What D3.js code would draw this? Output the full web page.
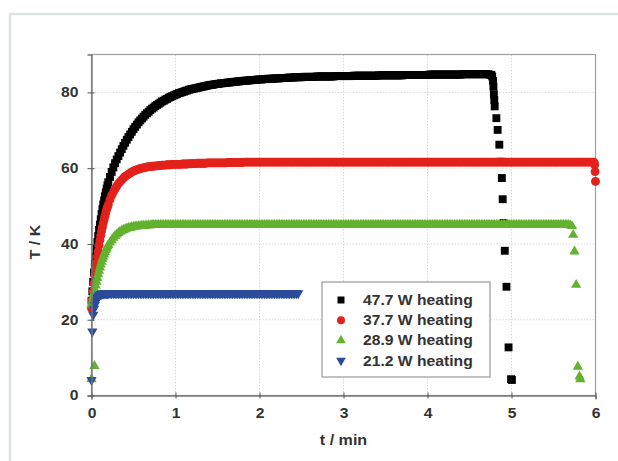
<!DOCTYPE html>
<html>
<head>
<meta charset="utf-8">
<script src="https://cdn.jsdelivr.net/npm/d3@7"></script>
<style>
  html, body { margin: 0; padding: 0; background: #fff; }
  svg text { font-family: "Liberation Sans", Arial, sans-serif; }
</style>
</head>
<body>
<svg id="chart" width="618" height="461"></svg>
<script>
// Sampling times (min) shared by the logged temperature series
const tGrid = [
  0.00, 0.01, 0.02, 0.03, 0.04, 0.05, 0.06, 0.07, 0.08, 0.09, 0.10,
  0.11, 0.12, 0.13, 0.14, 0.15, 0.16, 0.17, 0.18, 0.19, 0.20,
  0.22, 0.24, 0.26, 0.28, 0.30, 0.32, 0.34, 0.36, 0.38, 0.40,
  0.42, 0.44, 0.46, 0.48, 0.50, 0.52, 0.54, 0.56, 0.58, 0.60,
  0.62, 0.64, 0.66, 0.68, 0.70, 0.72, 0.74, 0.76, 0.78, 0.80,
  0.82, 0.84, 0.86, 0.88, 0.90, 0.92, 0.94, 0.96, 0.98, 1.00,
  1.02, 1.04, 1.06, 1.08, 1.10, 1.12, 1.14, 1.16, 1.18, 1.20,
  1.22, 1.24, 1.26, 1.28, 1.30, 1.32, 1.34, 1.36, 1.38, 1.40,
  1.42, 1.44, 1.46, 1.48, 1.50, 1.52, 1.54, 1.56, 1.58, 1.60,
  1.62, 1.64, 1.66, 1.68, 1.70, 1.72, 1.74, 1.76, 1.78, 1.80,
  1.82, 1.84, 1.86, 1.88, 1.90, 1.92, 1.94, 1.96, 1.98, 2.00,
  2.02, 2.04, 2.06, 2.08, 2.10, 2.12, 2.14, 2.16, 2.18, 2.20,
  2.22, 2.24, 2.26, 2.28, 2.30, 2.32, 2.34, 2.36, 2.38, 2.40,
  2.42, 2.44, 2.46, 2.48, 2.50, 2.52, 2.54, 2.56, 2.58, 2.60,
  2.62, 2.64, 2.66, 2.68, 2.70, 2.72, 2.74, 2.76, 2.78, 2.80,
  2.82, 2.84, 2.86, 2.88, 2.90, 2.92, 2.94, 2.96, 2.98, 3.00,
  3.02, 3.04, 3.06, 3.08, 3.10, 3.12, 3.14, 3.16, 3.18, 3.20,
  3.22, 3.24, 3.26, 3.28, 3.30, 3.32, 3.34, 3.36, 3.38, 3.40,
  3.42, 3.44, 3.46, 3.48, 3.50, 3.52, 3.54, 3.56, 3.58, 3.60,
  3.62, 3.64, 3.66, 3.68, 3.70, 3.72, 3.74, 3.76, 3.78, 3.80,
  3.82, 3.84, 3.86, 3.88, 3.90, 3.92, 3.94, 3.96, 3.98, 4.00,
  4.02, 4.04, 4.06, 4.08, 4.10, 4.12, 4.14, 4.16, 4.18, 4.20,
  4.22, 4.24, 4.26, 4.28, 4.30, 4.32, 4.34, 4.36, 4.38, 4.40,
  4.42, 4.44, 4.46, 4.48, 4.50, 4.52, 4.54, 4.56, 4.58, 4.60,
  4.62, 4.64, 4.66, 4.68, 4.70, 4.72, 4.74, 4.76, 4.78, 4.80,
  4.82, 4.84, 4.86, 4.88, 4.90, 4.92, 4.94, 4.96, 4.98, 5.00,
  5.02, 5.04, 5.06, 5.08, 5.10, 5.12, 5.14, 5.16, 5.18, 5.20,
  5.22, 5.24, 5.26, 5.28, 5.30, 5.32, 5.34, 5.36, 5.38, 5.40,
  5.42, 5.44, 5.46, 5.48, 5.50, 5.52, 5.54, 5.56, 5.58, 5.60,
  5.62, 5.64, 5.66, 5.68, 5.70, 5.72, 5.74, 5.76, 5.78, 5.80,
  5.82, 5.84, 5.86, 5.88, 5.90, 5.92, 5.94, 5.96, 5.98];

// Temperature T (K) on tGrid while the heater is on
const temp477 = [
  25.0, 27.5, 30.0, 32.5, 34.8, 36.8, 38.7, 40.5, 42.1, 43.7, 45.1,
  46.5, 47.9, 49.2, 50.4, 51.5, 52.6, 53.6, 54.6, 55.5, 56.3,
  57.7, 59.0, 60.2, 61.3, 62.3, 63.2, 64.1, 65.0, 65.9, 66.7,
  67.5, 68.2, 68.9, 69.6, 70.3, 70.9, 71.5, 72.1, 72.6, 73.1,
  73.6, 74.1, 74.5, 74.9, 75.3, 75.7, 76.0, 76.4, 76.7, 77.0,
  77.3, 77.6, 77.8, 78.1, 78.3, 78.6, 78.8, 79.0, 79.2, 79.4,
  79.6, 79.8, 79.9, 80.1, 80.2, 80.4, 80.5, 80.7, 80.8, 80.9,
  81.0, 81.1, 81.2, 81.3, 81.4, 81.5, 81.6, 81.7, 81.8, 81.9,
  82.0, 82.0, 82.1, 82.2, 82.2, 82.3, 82.4, 82.4, 82.5, 82.5,
  82.6, 82.6, 82.7, 82.7, 82.8, 82.8, 82.9, 82.9, 83.0, 83.0,
  83.1, 83.1, 83.1, 83.2, 83.2, 83.3, 83.3, 83.3, 83.4, 83.4,
  83.4, 83.5, 83.5, 83.5, 83.6, 83.6, 83.6, 83.6, 83.7, 83.7,
  83.7, 83.7, 83.8, 83.8, 83.8, 83.8, 83.9, 83.9, 83.9, 83.9,
  84.0, 84.0, 84.0, 84.0, 84.0, 84.1, 84.1, 84.1, 84.1, 84.1,
  84.1, 84.1, 84.1, 84.2, 84.2, 84.2, 84.2, 84.2, 84.2, 84.2,
  84.2, 84.2, 84.2, 84.2, 84.3, 84.3, 84.3, 84.3, 84.3, 84.3,
  84.3, 84.3, 84.3, 84.3, 84.3, 84.4, 84.4, 84.4, 84.4, 84.4,
  84.4, 84.4, 84.4, 84.4, 84.4, 84.4, 84.4, 84.4, 84.4, 84.4,
  84.5, 84.5, 84.5, 84.5, 84.5, 84.5, 84.5, 84.5, 84.5, 84.5,
  84.5, 84.5, 84.5, 84.5, 84.5, 84.6, 84.6, 84.6, 84.6, 84.6,
  84.6, 84.6, 84.6, 84.6, 84.6, 84.6, 84.6, 84.6, 84.6, 84.6,
  84.7, 84.7, 84.7, 84.7, 84.7, 84.7, 84.7, 84.7, 84.7, 84.7,
  84.7, 84.7, 84.7, 84.7, 84.7, 84.7, 84.7, 84.7, 84.7, 84.7,
  84.8, 84.8, 84.8, 84.8, 84.8, 84.8, 84.8, 84.8, 84.8, 84.8,
  84.8, 84.8, 84.8, 84.8, 84.8, 84.8, 84.7, 84.6];
const temp377 = [
  23.0, 25.3, 27.5, 29.6, 31.6, 33.4, 35.0, 36.6, 38.1, 39.6, 41.0,
  42.2, 43.4, 44.5, 45.5, 46.4, 47.3, 48.2, 49.0, 49.7, 50.4,
  51.7, 52.8, 53.7, 54.5, 55.2, 55.9, 56.4, 56.9, 57.4, 57.8,
  58.1, 58.4, 58.7, 59.0, 59.2, 59.4, 59.6, 59.7, 59.9, 60.0,
  60.1, 60.2, 60.3, 60.4, 60.4, 60.5, 60.5, 60.6, 60.6, 60.7,
  60.7, 60.8, 60.8, 60.8, 60.9, 60.9, 60.9, 61.0, 61.0, 61.0,
  61.0, 61.0, 61.0, 61.1, 61.1, 61.1, 61.1, 61.2, 61.2, 61.2,
  61.2, 61.2, 61.3, 61.3, 61.3, 61.3, 61.3, 61.3, 61.4, 61.4,
  61.4, 61.4, 61.4, 61.4, 61.4, 61.4, 61.4, 61.4, 61.4, 61.4,
  61.5, 61.5, 61.5, 61.5, 61.5, 61.5, 61.5, 61.5, 61.5, 61.5,
  61.6, 61.6, 61.6, 61.6, 61.6, 61.6, 61.6, 61.6, 61.6, 61.6,
  61.6, 61.6, 61.6, 61.6, 61.6, 61.6, 61.6, 61.6, 61.6, 61.6,
  61.6, 61.6, 61.6, 61.6, 61.6, 61.6, 61.6, 61.6, 61.6, 61.6,
  61.6, 61.6, 61.6, 61.6, 61.6, 61.6, 61.6, 61.6, 61.6, 61.6,
  61.6, 61.6, 61.6, 61.6, 61.6, 61.6, 61.6, 61.6, 61.6, 61.6,
  61.6, 61.6, 61.6, 61.6, 61.6, 61.6, 61.6, 61.6, 61.6, 61.6,
  61.6, 61.6, 61.6, 61.6, 61.6, 61.6, 61.6, 61.6, 61.6, 61.6,
  61.6, 61.6, 61.6, 61.6, 61.6, 61.6, 61.6, 61.6, 61.6, 61.6,
  61.6, 61.6, 61.6, 61.6, 61.6, 61.6, 61.6, 61.6, 61.6, 61.6,
  61.6, 61.6, 61.6, 61.6, 61.6, 61.6, 61.6, 61.6, 61.6, 61.6,
  61.6, 61.6, 61.6, 61.6, 61.6, 61.6, 61.6, 61.6, 61.6, 61.6,
  61.6, 61.6, 61.6, 61.6, 61.6, 61.6, 61.6, 61.6, 61.6, 61.6,
  61.6, 61.6, 61.6, 61.6, 61.6, 61.6, 61.6, 61.6, 61.6, 61.6,
  61.6, 61.6, 61.6, 61.6, 61.6, 61.6, 61.6, 61.6, 61.6, 61.6,
  61.6, 61.6, 61.6, 61.6, 61.6, 61.6, 61.6, 61.6, 61.6, 61.6,
  61.6, 61.6, 61.6, 61.6, 61.6, 61.6, 61.6, 61.6, 61.6, 61.6,
  61.6, 61.6, 61.6, 61.6, 61.6, 61.6, 61.6, 61.6, 61.6, 61.6,
  61.6, 61.6, 61.6, 61.6, 61.6, 61.6, 61.6, 61.6, 61.6, 61.6,
  61.6, 61.6, 61.6, 61.6, 61.6, 61.6, 61.6, 61.6, 61.6, 61.6,
  61.6, 61.6, 61.6, 61.6, 61.6, 61.6, 61.6, 61.6, 61.6, 61.6,
  61.6, 61.6, 61.6, 61.6, 61.6, 61.6, 61.6, 61.6, 61.6];
const temp289 = [
  24.0, 25.0, 26.0, 27.0, 28.0, 29.0, 30.0, 31.0, 32.0, 32.9, 33.8,
  34.6, 35.3, 36.0, 36.6, 37.2, 37.8, 38.3, 38.8, 39.3, 39.7,
  40.4, 41.0, 41.6, 42.1, 42.5, 42.9, 43.2, 43.5, 43.7, 43.9,
  44.1, 44.2, 44.3, 44.4, 44.5, 44.6, 44.6, 44.7, 44.7, 44.8,
  44.8, 44.8, 44.9, 44.9, 44.9, 45.0, 45.0, 45.0, 45.0, 45.0,
  45.0, 45.0, 45.0, 45.0, 45.0, 45.0, 45.0, 45.0, 45.0, 45.0,
  45.0, 45.0, 45.0, 45.0, 45.0, 45.0, 45.0, 45.0, 45.0, 45.0,
  45.0, 45.0, 45.0, 45.0, 45.0, 45.0, 45.0, 45.0, 45.0, 45.0,
  45.0, 45.0, 45.0, 45.0, 45.0, 45.0, 45.0, 45.0, 45.0, 45.0,
  45.0, 45.0, 45.0, 45.0, 45.0, 45.0, 45.0, 45.0, 45.0, 45.0,
  45.0, 45.0, 45.0, 45.0, 45.0, 45.0, 45.0, 45.0, 45.0, 45.0,
  45.0, 45.0, 45.0, 45.0, 45.0, 45.0, 45.0, 45.0, 45.0, 45.0,
  45.0, 45.0, 45.0, 45.0, 45.0, 45.0, 45.0, 45.0, 45.0, 45.0,
  45.0, 45.0, 45.0, 45.0, 45.0, 45.0, 45.0, 45.0, 45.0, 45.0,
  45.0, 45.0, 45.0, 45.0, 45.0, 45.0, 45.0, 45.0, 45.0, 45.0,
  45.0, 45.0, 45.0, 45.0, 45.0, 45.0, 45.0, 45.0, 45.0, 45.0,
  45.0, 45.0, 45.0, 45.0, 45.0, 45.0, 45.0, 45.0, 45.0, 45.0,
  45.0, 45.0, 45.0, 45.0, 45.0, 45.0, 45.0, 45.0, 45.0, 45.0,
  45.0, 45.0, 45.0, 45.0, 45.0, 45.0, 45.0, 45.0, 45.0, 45.0,
  45.0, 45.0, 45.0, 45.0, 45.0, 45.0, 45.0, 45.0, 45.0, 45.0,
  45.0, 45.0, 45.0, 45.0, 45.0, 45.0, 45.0, 45.0, 45.0, 45.0,
  45.0, 45.0, 45.0, 45.0, 45.0, 45.0, 45.0, 45.0, 45.0, 45.0,
  45.0, 45.0, 45.0, 45.0, 45.0, 45.0, 45.0, 45.0, 45.0, 45.0,
  45.0, 45.0, 45.0, 45.0, 45.0, 45.0, 45.0, 45.0, 45.0, 45.0,
  45.0, 45.0, 45.0, 45.0, 45.0, 45.0, 45.0, 45.0, 45.0, 45.0,
  45.0, 45.0, 45.0, 45.0, 45.0, 45.0, 45.0, 45.0, 45.0, 45.0,
  45.0, 45.0, 45.0, 45.0, 45.0, 45.0, 45.0, 45.0, 45.0, 45.0,
  45.0, 45.0, 45.0, 45.0, 45.0, 45.0, 45.0, 45.0, 45.0, 45.0,
  45.0, 45.0, 45.0, 45.0, 45.0, 45.0, 45.0, 45.0, 45.0, 45.0,
  45.0, 45.0, 45.0, 45.0, 44.9, 44.7];
const temp212 = [
  4.1, 16.9, 21.3, 22.9, 23.9, 24.7, 25.3, 25.8, 26.1, 26.4, 26.6,
  26.7, 26.8, 26.9, 26.9, 27.0, 27.0, 27.0, 27.0, 27.0, 27.0,
  27.0, 27.0, 27.0, 27.0, 27.0, 27.0, 27.0, 27.0, 27.0, 27.0,
  27.0, 27.0, 27.0, 27.0, 27.0, 27.0, 27.0, 27.0, 27.0, 27.0,
  27.0, 27.0, 27.0, 27.0, 27.0, 27.0, 27.0, 27.0, 27.0, 27.0,
  27.0, 27.0, 27.0, 27.0, 27.0, 27.0, 27.0, 27.0, 27.0, 27.0,
  27.0, 27.0, 27.0, 27.0, 27.0, 27.0, 27.0, 27.0, 27.0, 27.0,
  27.0, 27.0, 27.0, 27.0, 27.0, 27.0, 27.0, 27.0, 27.0, 27.0,
  27.0, 27.0, 27.0, 27.0, 27.0, 27.0, 27.0, 27.0, 27.0, 27.0,
  27.0, 27.0, 27.0, 27.0, 27.0, 27.0, 27.0, 27.0, 27.0, 27.0,
  27.0, 27.0, 27.0, 27.0, 27.0, 27.0, 27.0, 27.0, 27.0, 27.0,
  27.0, 27.0, 27.0, 27.0, 27.0, 27.0, 27.0, 27.0, 27.0, 27.0,
  27.0, 27.0, 27.0, 27.0, 27.0, 27.0, 27.0, 27.0, 27.0, 27.0,
  27.0, 27.0, 27.0];

// Extra readings: start-up points and the cool-down after the heater is switched off
const extraTime477 = [4.77, 4.78, 4.785, 4.79, 4.795, 4.80, 4.82, 4.835, 4.855, 4.87, 4.885, 4.895, 4.905, 4.92, 4.94, 4.965, 4.995, 5.005];
const extraTemp477 = [84.2, 83.0, 81.5, 79.5, 78.0, 76.3, 73.2, 70.1, 66.2, 61.7, 57.4, 51.8, 45.5, 38.2, 28.7, 12.7, 4.3, 4.1];
const extraTime377 = [5.985, 5.99, 5.995, 6.0];
const extraTemp377 = [61.4, 60.9, 59.1, 56.5];
const extraTime289 = [0, 0.035, 5.735, 5.75, 5.77, 5.79, 5.81, 5.82];
const extraTemp289 = [4.3, 7.8, 42.4, 38.0, 29.2, 7.6, 5.0, 4.3];

const seriesNames = ["47.7 W heating", "37.7 W heating", "28.9 W heating", "21.2 W heating"];
const seriesColors = ["#000000", "#e3211b", "#62b22f", "#2c4b9b"];
const xTicks = [0, 1, 2, 3, 4, 5, 6];
const yTicks = [0, 20, 40, 60, 80];

const svg = d3.select("#chart");
const textColor = "#333";

// light outer panel border
svg.append("rect")
  .attr("x", 10).attr("y", 14).attr("width", 700).attr("height", 600)
  .attr("fill", "none").attr("stroke", "#dde2e2").attr("stroke-width", 2.5);

const x = d3.scaleLinear().domain([0, 6]).range([91.5, 595.5]);
const y = d3.scaleLinear().domain([0, 90]).range([395.5, 54.5]);

// dotted grid
const grid = svg.append("g");
grid.selectAll("line.gx").data(xTicks.slice(1, -1)).join("line")
  .attr("x1", d => x(d)).attr("x2", d => x(d))
  .attr("y1", y(0)).attr("y2", y(90))
  .attr("stroke", "#d8d8d8").attr("stroke-dasharray", "1.5,1.5");
grid.selectAll("line.gy").data(yTicks.slice(1)).join("line")
  .attr("x1", x(0)).attr("x2", x(6))
  .attr("y1", d => y(d)).attr("y2", d => y(d))
  .attr("stroke", "#d8d8d8").attr("stroke-dasharray", "1.5,1.5");

// plot frame
svg.append("rect")
  .attr("x", x(0)).attr("y", y(90))
  .attr("width", x(6) - x(0)).attr("height", y(0) - y(90))
  .attr("fill", "none").attr("stroke", "#a0a0a0").attr("stroke-width", 1.2);

// series markers
const squareSym = d3.symbol().type(d3.symbolSquare).size(62);
const circleSym = d3.symbol().type(d3.symbolCircle).size(62);
const triSym = d3.symbol().type(d3.symbolTriangle).size(46);

function pts(temps, extraT, extraV) {
  const p = temps.map((v, i) => [tGrid[i], v]);
  if (extraT) extraT.forEach((t, i) => p.push([t, extraV[i]]));
  return p;
}
const series = [
  { pts: pts(temp477, extraTime477, extraTemp477), sym: squareSym, rot: 0 },
  { pts: pts(temp377, extraTime377, extraTemp377), sym: circleSym, rot: 0 },
  { pts: pts(temp289, extraTime289, extraTemp289), sym: triSym, rot: 0 },
  { pts: pts(temp212), sym: triSym, rot: 180 }
];

const marks = svg.append("g");
series.forEach((s, k) => {
  marks.append("g").selectAll("path").data(s.pts).join("path")
    .attr("d", s.sym)
    .attr("transform", d => `translate(${x(d[0])},${y(d[1])}) rotate(${s.rot})`)
    .attr("fill", seriesColors[k]);
});

// axes with crossing ticks
const xAxis = svg.append("g").attr("transform", `translate(0,${y(0)})`)
  .call(d3.axisBottom(x).tickValues(xTicks).tickFormat(d3.format("d")).tickSize(4).tickPadding(9));
xAxis.selectAll(".tick line").attr("y1", -3).attr("y2", 3);
const yAxis = svg.append("g").attr("transform", `translate(${x(0)},0)`)
  .call(d3.axisLeft(y).tickValues(yTicks).tickFormat(d3.format("d")).tickSize(4).tickPadding(9));
yAxis.selectAll(".tick line").attr("x1", -4).attr("x2", 3);
[xAxis, yAxis].forEach(a => {
  a.select(".domain").attr("stroke", "#777").attr("stroke-width", 1.4);
  a.selectAll(".tick line").attr("stroke", "#555").attr("stroke-width", 1);
  a.selectAll(".tick text").attr("font-size", 14).attr("font-weight", "bold")
    .style("font-family", "Liberation Sans, Arial, sans-serif").attr("fill", textColor);
});
xAxis.selectAll(".tick text").attr("transform", "scale(1.12,1)").attr("x", 0);
yAxis.selectAll(".tick text").each(function () {
  const t = d3.select(this);
  const xx = +t.attr("x");
  t.attr("transform", `translate(${xx},0) scale(1.12,1)`).attr("x", 0);
});

// axis titles
svg.append("text")
  .attr("transform", `translate(${x(3)},445) scale(1.15,1)`)
  .attr("text-anchor", "middle").attr("font-size", 14).attr("font-weight", "bold").attr("fill", textColor)
  .text("t / min");
svg.append("text")
  .attr("transform", "translate(40,242) rotate(-90) scale(1.15,1)")
  .attr("text-anchor", "middle").attr("font-size", 14).attr("font-weight", "bold").attr("fill", textColor)
  .text("T / K");

// legend
const lg = svg.append("g");
lg.append("rect").attr("x", 322).attr("y", 282).attr("width", 168).attr("height", 95)
  .attr("fill", "#fff").attr("stroke", "#9a9a9a").attr("stroke-width", 1.2);
const legSyms = [
  d3.symbol().type(d3.symbolSquare).size(49),
  d3.symbol().type(d3.symbolCircle).size(50),
  d3.symbol().type(d3.symbolTriangle).size(40),
  d3.symbol().type(d3.symbolTriangle).size(40)];
const legRot = [0, 0, 0, 180];
seriesNames.forEach((name, i) => {
  const cy = 300 + i * 20.2;
  lg.append("path").attr("d", legSyms[i])
    .attr("transform", `translate(341,${cy}) rotate(${legRot[i]})`)
    .attr("fill", seriesColors[i]);
  lg.append("text")
    .attr("transform", `translate(363,${cy + 5}) scale(1.12,1)`)
    .attr("font-size", 14).attr("font-weight", "bold").attr("fill", textColor)
    .text(name);
});
</script>
</body>
</html>
